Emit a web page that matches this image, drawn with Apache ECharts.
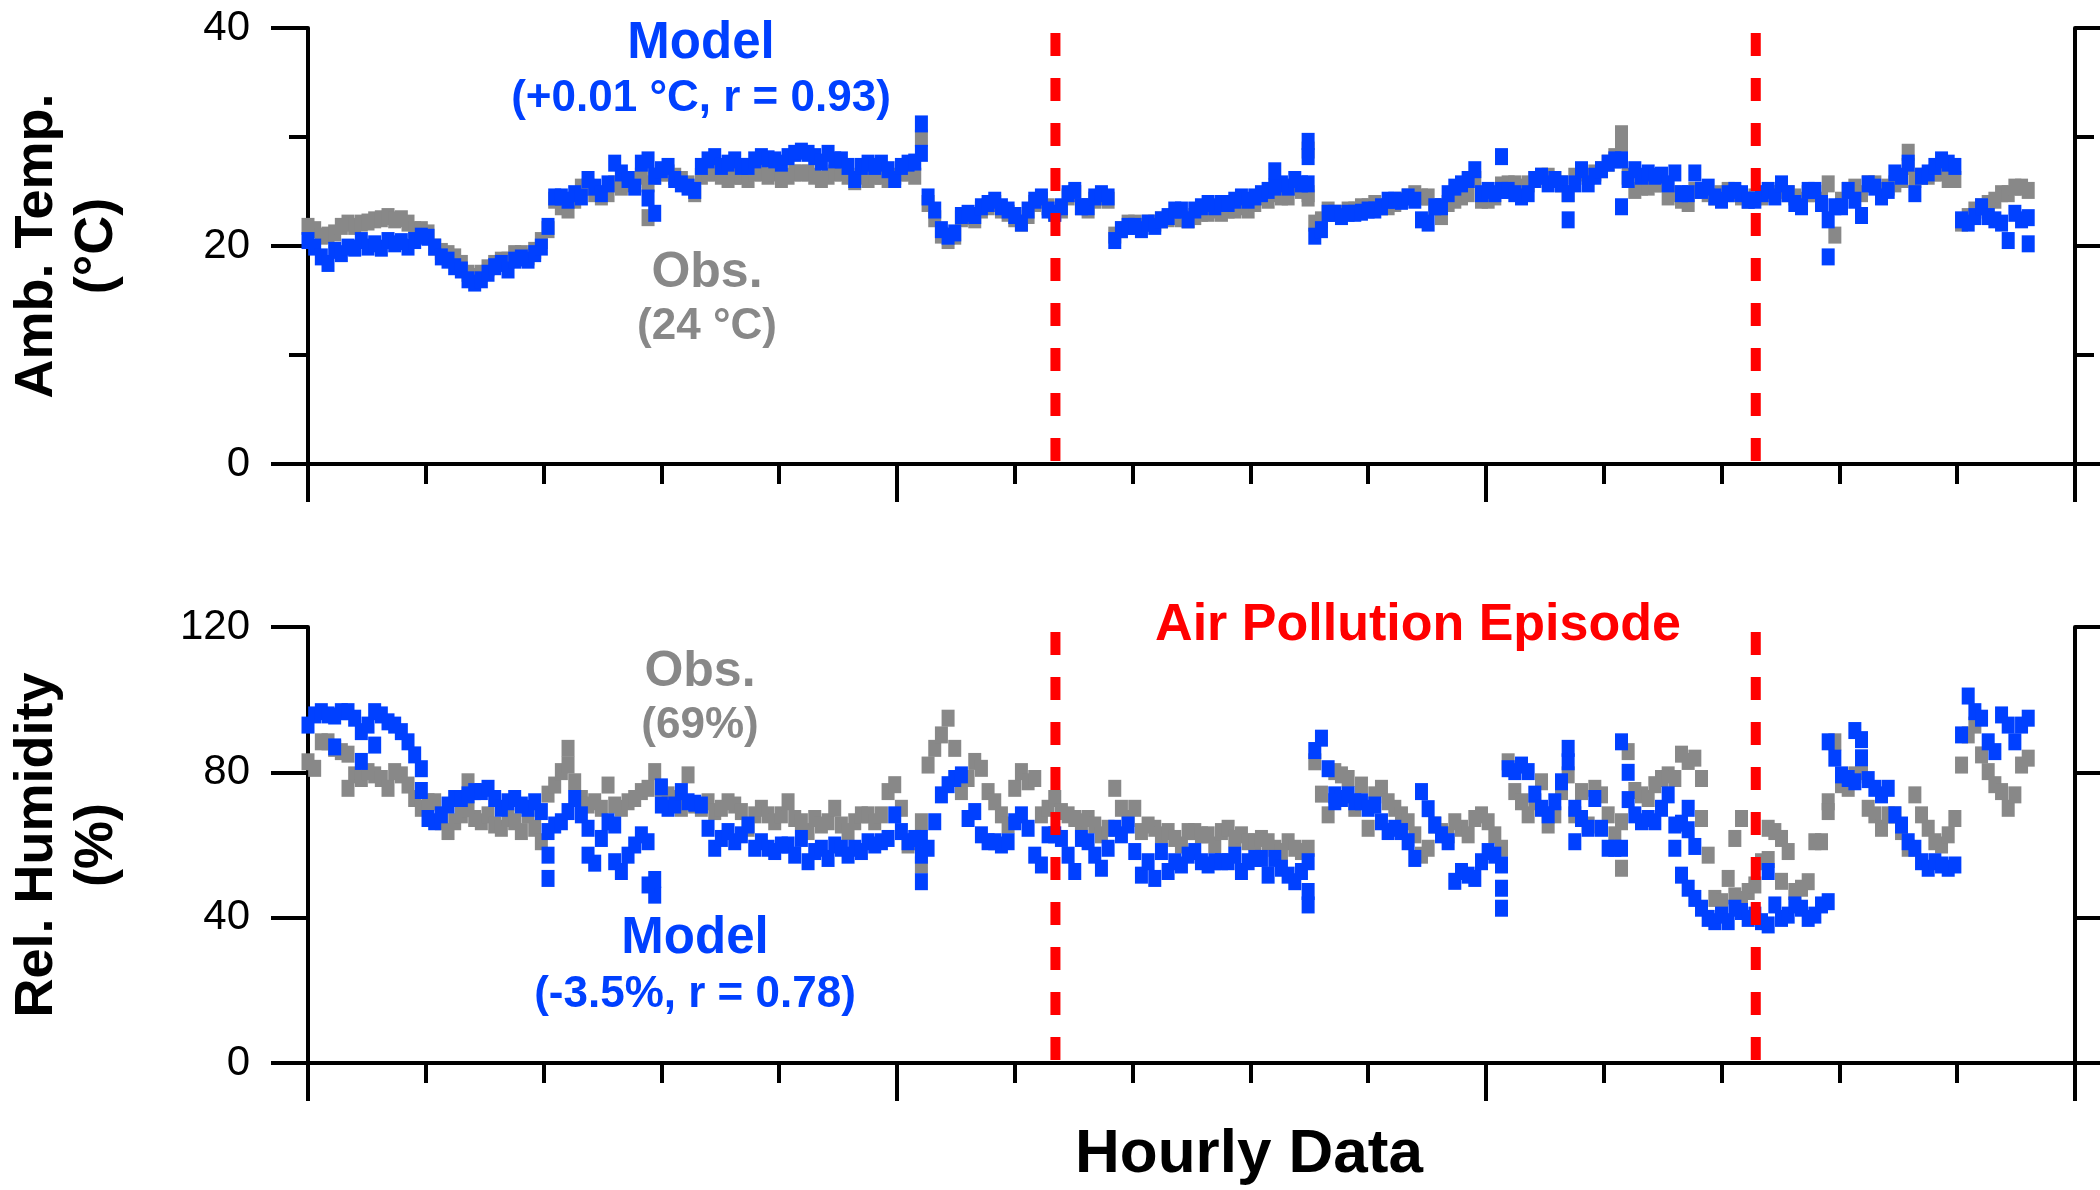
<!DOCTYPE html>
<html lang="en">

<head>
    <meta charset="UTF-8">
    <title>Hourly Data</title>
</head>

<body style="margin: 0; background: #fff">
    <div id="container" style="width: 2100px; height: 1190px"></div>
    <script type="text/javascript" src="https://cdn.jsdelivr.net/npm/echarts@6/dist/echarts.min.js"></script>
    <script type="text/javascript">
        // hours between two read samples
        var STEP_HOURS = 5.66;
        // start / end of the air pollution episode (hours)
        var EPISODE = [634.5, 1229];

        var Y_TEMP_TICKS = [0, 20, 40];
        var Y_RH_TICKS = [0, 40, 80, 120];

        // ambient temperature, model
        var tempModel = [
            20.5, 19.9, 19.0, 18.4, 19.6, 19.3, 19.9, 19.8, 20.5, 19.9,
            20.2, 19.8, 20.5, 20.2, 20.4, 19.9, 20.5, 20.9, 20.8, 19.9,
            19.0, 18.7, 18.1, 17.8, 16.9, 16.6, 16.9, 17.5, 18.1, 18.4,
            17.8, 18.7, 18.9, 18.7, 19.3, 19.9, 21.8, 24.5, 24.5, 24.2,
            24.8, 24.5, 26.1, 25.4, 24.8, 25.7, 27.6, 26.7, 26.1, 25.4,
            27.6, 27.9, 26.4, 27.0, 27.3, 26.1, 25.7, 25.4, 25.1, 27.3,
            27.9, 28.2, 27.3, 27.6, 27.9, 27.3, 27.3, 27.9, 28.2, 28.0,
            27.9, 27.6, 28.2, 28.5, 28.7, 28.5, 28.2, 27.7, 28.5, 27.9,
            27.9, 27.3, 26.1, 27.3, 27.6, 27.3, 27.6, 27.0, 26.1, 27.3,
            27.6, 27.7, 31.2, 24.5, 23.3, 21.5, 20.9, 21.2, 22.8, 23.0,
            22.8, 23.6, 23.9, 24.2, 23.6, 23.3, 22.8, 22.1, 23.3, 24.2,
            24.5, 23.3, 23.0, 23.6, 24.8, 25.1, 23.6, 23.6, 24.5, 24.8,
            24.5, 20.5, 21.5, 21.8, 21.8, 21.5, 22.1, 21.8, 22.4, 22.7,
            23.3, 23.3, 22.4, 23.3, 23.6, 23.9, 23.6, 23.9, 23.9, 24.2,
            24.5, 24.2, 24.5, 24.8, 25.1, 25.4, 25.7, 25.4, 26.1, 25.7,
            25.7, 20.9, 21.5, 23.0, 23.0, 22.7, 23.0, 23.0, 23.1, 23.3,
            23.3, 23.6, 24.2, 24.2, 24.1, 24.5, 24.2, 22.4, 22.1, 23.6,
            23.6, 24.8, 25.4, 25.7, 26.1, 27.0, 24.8, 25.1, 24.8, 25.1,
            25.1, 24.8, 24.5, 24.8, 26.1, 26.4, 25.7, 26.1, 25.7, 24.8,
            25.7, 27.0, 25.7, 26.4, 27.0, 27.6, 27.9, 27.9, 26.1, 27.0,
            26.4, 26.7, 26.4, 26.5, 25.7, 26.7, 24.8, 24.8, 26.7, 25.1,
            25.4, 24.5, 24.2, 24.8, 25.1, 24.8, 24.2, 24.2, 24.8, 25.1,
            24.5, 25.7, 24.8, 23.9, 23.6, 25.1, 25.1, 23.9, 22.4, 23.6,
            23.6, 25.1, 24.2, 22.8, 25.7, 25.4, 24.5, 25.1, 26.7, 26.4,
            27.6, 24.8, 26.4, 26.7, 27.3, 27.9, 27.6, 27.3, 22.4, 22.1,
            22.7, 23.6, 22.7, 22.4, 22.1, 20.5, 23.0, 22.4, 20.2
        ];
        // [sample index, value] hours with a second reading
        var tempModelExtra = [[51, 24.4], [52, 23.0], [92, 28.5], [145, 26.9], [150, 29.6], [150, 28.2],
            [179, 28.2], [189, 22.4], [197, 23.6], [228, 19.0], [258, 22.6]];

        // ambient temperature, observed
        var tempObs = [
            21.8, 21.5, 20.9, 21.0, 21.2, 21.8, 22.1, 21.8, 22.1, 22.2,
            22.4, 22.5, 22.7, 22.4, 22.5, 22.1, 21.5, 21.5, 21.2, 19.9,
            19.5, 19.3, 19.0, 18.4, 17.5, 17.2, 17.5, 18.0, 18.4, 18.7,
            18.7, 19.3, 19.3, 19.0, 19.6, 20.5, 21.5, 24.2, 23.6, 23.3,
            24.2, 25.4, 25.4, 24.8, 24.5, 24.8, 25.7, 25.4, 25.7, 26.1,
            26.4, 25.7, 26.4, 26.7, 26.7, 26.4, 26.1, 25.7, 24.8, 26.4,
            26.7, 26.7, 26.4, 26.1, 26.4, 26.4, 26.1, 26.7, 26.7, 26.4,
            26.7, 26.1, 26.4, 26.7, 26.7, 26.7, 26.4, 26.1, 26.4, 26.7,
            26.7, 26.4, 25.9, 26.4, 26.1, 26.4, 26.4, 26.1, 26.4, 26.7,
            26.7, 26.4, 29.9, 23.9, 22.5, 21.0, 20.5, 20.9, 22.5, 22.7,
            22.4, 23.3, 23.6, 23.9, 23.3, 23.0, 22.5, 22.1, 22.8, 23.9,
            24.2, 23.6, 23.0, 23.3, 24.5, 24.8, 23.6, 23.3, 24.2, 24.5,
            24.2, 21.0, 21.5, 22.1, 22.1, 21.8, 22.1, 22.1, 22.4, 22.5,
            22.7, 22.5, 22.4, 22.7, 23.0, 23.0, 23.3, 23.0, 23.3, 23.3,
            23.6, 23.3, 23.9, 24.5, 24.2, 24.8, 24.5, 24.5, 25.4, 25.1,
            24.8, 22.1, 22.4, 23.3, 23.0, 23.0, 23.3, 23.3, 23.6, 23.6,
            23.9, 23.6, 23.6, 23.9, 24.2, 24.5, 24.8, 24.5, 24.5, 23.6,
            22.7, 23.9, 24.2, 24.5, 24.8, 26.1, 24.2, 24.2, 24.5, 25.6,
            25.7, 25.7, 25.4, 25.7, 26.1, 26.4, 26.4, 26.1, 25.7, 24.8,
            26.4, 26.7, 26.4, 26.7, 27.0, 27.6, 28.2, 29.2, 26.4, 25.1,
            25.4, 25.4, 25.7, 25.7, 24.5, 24.8, 24.2, 23.9, 25.1, 25.1,
            24.8, 24.5, 24.8, 25.1, 24.8, 24.5, 24.2, 24.5, 24.5, 24.8,
            24.8, 25.1, 24.8, 24.5, 24.2, 24.8, 24.8, 24.2, 25.7, 21.0,
            24.2, 25.1, 25.4, 24.8, 25.7, 25.7, 25.1, 25.4, 25.7, 26.1,
            27.3, 26.1, 26.4, 26.4, 26.7, 26.7, 26.1, 26.1, 22.1, 22.7,
            23.3, 23.6, 23.9, 24.2, 24.8, 24.8, 25.4, 25.4, 25.1
        ];
        var tempObsExtra = [[51, 22.6], [150, 28.8], [150, 24.4], [197, 30.3], [240, 28.6]];

        // relative humidity, model
        var rhModel = [
            93, 95.8, 96.7, 95.8, 87, 96.7, 96.7, 94.9, 91.2, 93,
            96.7, 95.8, 93.9, 93, 91.2, 88.4, 84.8, 75, 67.3, 66.4,
            68.3, 71, 72.8, 72.8, 73.8, 74.7, 74.7, 75.6, 72.8, 70.1,
            71.9, 72.8, 71, 70.1, 71.9, 69.2, 63.7, 65.5, 66.4, 69.2,
            72.8, 68.3, 64.6, 55, 61.8, 66.4, 65.5, 52.7, 57.2, 60,
            62.8, 60.9, 46.2, 76, 70.1, 71, 74.7, 71.9, 71.5, 71,
            64.6, 59.1, 61.8, 63.7, 60.9, 62.8, 65.5, 59.1, 60.9, 59.1,
            58.2, 60, 60, 57.2, 61.8, 55.4, 58.2, 59.1, 56.3, 60,
            59.1, 57.2, 59.1, 58.2, 60.9, 60, 60.9, 61.8, 68.3, 63.7,
            60.9, 61.8, 61.8, 59.1, 66.4, 73.8, 76.6, 78.3, 79.3, 67.3,
            69.2, 62.8, 60.9, 60.9, 60, 60.9, 66.4, 68.3, 64.6, 57.2,
            54.5, 62.8, 62.8, 61.8, 57.2, 52.7, 61.8, 60.9, 57.2, 53.6,
            59.1, 64.6, 62.8, 65.5, 58.2, 51.7, 55.4, 50.8, 58.2, 52.7,
            55.4, 54.5, 57.2, 58.2, 55.4, 54.5, 55.4, 55.4, 55.4, 57.2,
            52.7, 55.4, 56.3, 56.3, 51.7, 56.3, 53.6, 51.7, 49.9, 52.7,
            55.4, 86, 89.4, 81, 73.8, 72.8, 73.8, 71.9, 71.9, 70.1,
            71, 66.4, 63.7, 64.6, 63.7, 60.9, 56.3, 74.7, 70, 65.5,
            62.8, 60.9, 50, 52.7, 51.7, 50.8, 55.4, 58.2, 57.2, 54.5,
            81, 80.2, 82, 80.2, 74, 70.1, 68.3, 71.9, 77.4, 82.9,
            70.1, 67.3, 64.6, 72.8, 64.6, 59.1, 59.1, 59.1, 80, 68.3,
            66.4, 67.3, 66.4, 70.1, 73.8, 65.5, 66, 64.2, 59.6, 42.6,
            39.8, 38.9, 40.7, 38.9, 42.6, 41.7, 39.8, 40.7, 38.9, 52.7,
            43.5, 39.8, 40.7, 43.5, 42.6, 39.8, 40.7, 43.5, 88.4, 83.9,
            79.3, 78.3, 77.4, 89, 78, 75.6, 73.8, 75.6, 68.3, 65.5,
            60.9, 59.1, 55.4, 53.6, 55.4, 54.5, 53.6, 54.5, 90.3, 101,
            96.7, 94.9, 88.4, 85.7, 95.8, 93, 88.4, 93, 94.9
        ];
        var rhModelExtra = [[4, 95.5], [8, 83], [10, 87.5], [17, 81], [36, 57.2], [36, 50.8], [42, 57.2],
            [46, 55.4], [51, 49], [52, 50.5], [53, 71], [92, 57.2], [92, 49.9], [150, 47.2], [150, 43.5],
            [154, 71.9], [179, 48.1], [179, 42.6], [189, 86.6], [190, 60.9], [197, 88.4], [198, 72.5],
            [205, 59.1], [206, 51.7], [207, 48.1], [207, 70.1], [208, 45.3], [219, 38], [228, 44.4],
            [232, 91.5], [233, 84]];

        // relative humidity, observed
        var rhObs = [
            82.9, 81.1, 88.4, 88.4, 86.6, 85.7, 85, 79.3, 78.3, 80.2,
            79.3, 78.3, 75.6, 80.2, 79.3, 76.5, 72.8, 70.1, 71.9, 71.9,
            66.4, 63.7, 66.4, 68.3, 70, 67.3, 66.4, 68.3, 65.5, 64.6,
            67.3, 66.4, 63.7, 68.3, 64.6, 60.9, 74, 76.5, 80.2, 82,
            77.4, 72.8, 71, 71.9, 70.1, 76.5, 71, 70.1, 71.9, 72.8,
            74.7, 75.6, 80.2, 75.6, 73.8, 72.8, 70.1, 79.3, 71, 70.1,
            71.9, 69.2, 70.1, 71.9, 71, 69.2, 64.6, 68.3, 70.1, 68.3,
            66.4, 68.3, 71.9, 67.3, 66.4, 63.7, 67.3, 65.5, 66.4, 70.1,
            65.5, 63.7, 66.4, 68.3, 68.3, 66.4, 68.3, 74.7, 76.6, 70.1,
            60, 60.9, 66.4, 82, 86.6, 90.3, 94.9, 86.6, 74.7, 78.3,
            83, 81.1, 74.7, 71.9, 68.3, 65.5, 75.6, 80.2, 77.4, 78.3,
            68.3, 70.1, 72.8, 69.2, 68.3, 67.3, 66.4, 67.3, 65.5, 62.8,
            64.6, 75.6, 70.1, 67.3, 70.1, 63.7, 65.5, 64.6, 62.8, 63.7,
            61.8, 60, 63.7, 63.7, 62.8, 62.8, 60, 63.7, 64.6, 61.8,
            62.8, 60.9, 60.9, 61.8, 60.9, 59.1, 58.2, 60.9, 59.1, 58.2,
            59.1, 82.9, 74, 68.3, 80.2, 79.3, 78.3, 70.1, 76.5, 64.6,
            73.8, 75.6, 71.9, 70.1, 68.3, 66.4, 62.8, 57.2, 59.1, 65.5,
            63.7, 62.8, 66.4, 64.6, 62.8, 67.3, 68.3, 66.4, 62.8, 59.1,
            82.9, 74.7, 71.9, 68.3, 71.9, 77.4, 65.5, 68.3, 74.7, 79.3,
            68.3, 74.7, 65.5, 75.6, 73.8, 68.3, 62.8, 66.4, 85.7, 75,
            73.8, 72.8, 76.6, 78.3, 79.3, 78.3, 85, 83, 83.9, 78.3,
            57.2, 45.3, 44.4, 50.8, 61.8, 67.3, 47.2, 49, 55.4, 64.6,
            63.7, 61.8, 58.2, 47.2, 48.1, 49.9, 60.9, 60.9, 71.9, 88.4,
            76.6, 75.6, 79.3, 80.2, 70.1, 68.3, 64.6, 68.3, 68.3, 63.7,
            59.1, 73.8, 68.3, 64.6, 60.9, 60, 62.8, 67.3, 82, 90.3,
            93, 84.8, 80.2, 76.6, 74.7, 70.1, 73.8, 82, 83.9
        ];
        var rhObsExtra = [[6, 75.6], [24, 77.4], [39, 86.6], [92, 54.5], [197, 53.6], [209, 67.3],
            [214, 46], [215, 45], [219, 56], [221, 50], [228, 69.2]];

        var BLUE = '#0040ff';
        var GRAY = '#888888';
        var RED = '#ff0000';
        var FONT = '"Liberation Sans", Arial, sans-serif';

        function toPoints(values, extra) {
            var pts = values.map(function (v, i) { return [i * STEP_HOURS, v]; });
            extra.forEach(function (e) { pts.push([e[0] * STEP_HOURS, e[1]]); });
            return pts;
        }

        function xAxisFor(g) {
            return {
                gridIndex: g, type: 'value', min: 0, max: 1500, interval: 500,
                axisLine: { show: true, onZero: false, lineStyle: { color: '#000', width: 4 } },
                axisTick: { show: true, length: 38, lineStyle: { color: '#000', width: 4 } },
                minorTick: { show: true, splitNumber: 5, length: 20, lineStyle: { color: '#000', width: 4 } },
                axisLabel: { show: false },
                splitLine: { show: false }
            };
        }

        function yAxisFor(g, ticks, minor, side) {
            var step = ticks[1] - ticks[0];
            return {
                gridIndex: g, type: 'value', position: side,
                min: ticks[0], max: ticks[ticks.length - 1], interval: step,
                axisLine: { show: true, lineStyle: { color: '#000', width: 4 } },
                axisTick: { show: true, length: 37, lineStyle: { color: '#000', width: 4 } },
                minorTick: { show: minor, splitNumber: 2, length: 19, lineStyle: { color: '#000', width: 4 } },
                axisLabel: {
                    show: side === 'left', margin: 58, color: '#000',
                    fontSize: 42, fontFamily: FONT
                },
                splitLine: { show: false }
            };
        }

        // hourly readings spread a little vertically, so marks are a bit taller than wide
        function scatter(data, color, yIdx) {
            return {
                type: 'scatter', xAxisIndex: yIdx < 2 ? 0 : 1, yAxisIndex: yIdx,
                symbol: 'rect', symbolSize: [13, 17], data: data,
                itemStyle: { color: color, opacity: 1 }, silent: true
            };
        }

        // red dashed episode markers, drawn from top of each panel
        function episodeLine(x, yIdx, top) {
            return {
                type: 'line', xAxisIndex: yIdx < 2 ? 0 : 1, yAxisIndex: yIdx,
                data: [[x, top], [x, 0]], symbol: 'none', silent: true, z: 10,
                lineStyle: { color: RED, width: 10, type: [23, 22], dashOffset: 40, cap: 'butt' }
            };
        }

        function label(text, x, y, size, color) {
            return {
                type: 'text', x: x, y: y,
                style: {
                    text: text, fill: color, align: 'center', verticalAlign: 'middle',
                    font: 'bold ' + size + 'px ' + FONT
                }
            };
        }

        function vLabel(text, x, y, size) {
            var t = label(text, x, y, size, '#000');
            t.rotation = Math.PI / 2;
            return t;
        }

        var dom = document.getElementById('container');
        var myChart = echarts.init(dom, null, { renderer: 'canvas' });

        var series = [
            scatter(toPoints(tempObs, tempObsExtra), GRAY, 0),
            scatter(toPoints(tempModel, tempModelExtra), BLUE, 0),
            scatter(toPoints(rhObs, rhObsExtra), GRAY, 2),
            scatter(toPoints(rhModel, rhModelExtra), BLUE, 2)
        ];
        EPISODE.forEach(function (x) {
            series.push(episodeLine(x, 0, Y_TEMP_TICKS[Y_TEMP_TICKS.length - 1]));
            series.push(episodeLine(x, 2, Y_RH_TICKS[Y_RH_TICKS.length - 1]));
        });

        var option = {
            animation: false,
            backgroundColor: '#fff',
            grid: [
                { left: 308, right: 25, top: 28, height: 436 },
                { left: 308, right: 25, top: 627, height: 436 }
            ],
            xAxis: [xAxisFor(0), xAxisFor(1)],
            yAxis: [
                yAxisFor(0, Y_TEMP_TICKS, true, 'left'),
                yAxisFor(0, Y_TEMP_TICKS, true, 'right'),
                yAxisFor(1, Y_RH_TICKS, false, 'left'),
                yAxisFor(1, Y_RH_TICKS, false, 'right')
            ],
            series: series,
            graphic: [
                label('Model', 701, 44, 51, BLUE),
                label('(+0.01 \u00B0C, r = 0.93)', 701, 99, 44, BLUE),
                label('Obs.', 707, 273, 50, GRAY),
                label('(24 \u00B0C)', 707, 327, 44, GRAY),
                label('Obs.', 700, 672, 50, GRAY),
                label('(69%)', 700, 726, 44, GRAY),
                label('Model', 695, 939, 51, BLUE),
                label('(-3.5%, r = 0.78)', 695, 995, 44, BLUE),
                label('Air Pollution Episode', 1418, 626, 52, RED),
                label('Hourly Data', 1249, 1155, 62, '#000'),
                vLabel('Amb. Temp.', 37, 246, 54),
                vLabel('(\u00B0C)', 97, 246, 54),
                vLabel('Rel. Humidity', 37, 845, 54),
                vLabel('(%)', 97, 845, 54)
            ]
        };
        myChart.setOption(option);
    </script>
</body>

</html>
